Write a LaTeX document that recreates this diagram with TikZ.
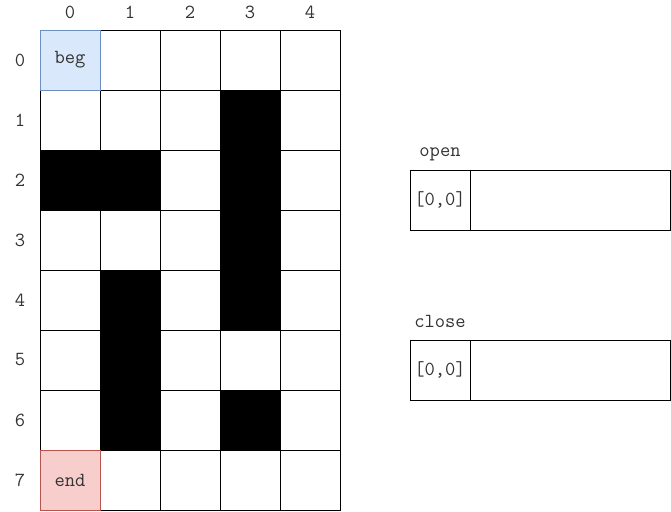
\documentclass[tikz,border=0pt]{standalone}
\usetikzlibrary{positioning}
\definecolor{txt}{HTML}{333333}
\definecolor{begfill}{HTML}{DAE8FC}
\definecolor{begdraw}{HTML}{6C8EBF}
\definecolor{endfill}{HTML}{F8CECC}
\definecolor{enddraw}{HTML}{B85450}
\tikzset{cell/.style={draw,minimum size=60pt,inner sep=0pt,outer sep=0pt}}
\tikzset{wall/.style={cell,fill=black}}
\tikzset{lbl/.style={inner sep=0pt,text=txt,font=\ttfamily\fontsize{20}{22}\selectfont}}

\begin{document}
\begin{tikzpicture}[x=1pt,y=-1pt]
    \useasboundingbox (0,0) rectangle (671,511);
    % grid
    \foreach \r in {0,...,7} {
      \node[lbl] (row\r) at (20,60+60*\r) {\r};
      \foreach \c in {0,...,4}
        \node[cell] (c\r\c) at (70+60*\c,60+60*\r) {};
    }
    \foreach \c in {0,...,4}
      \node[lbl] (col\c) at (70+60*\c,12) {\c};
    % walls
    \foreach \r/\c in {1/3,2/0,2/1,2/3,3/3,4/1,4/3,5/1,6/1,6/3}
      \node[wall] at (c\r\c) {};
    \node[cell,lbl,draw=begdraw,fill=begfill] (beg) at (c00) {beg};
    \node[cell,lbl,draw=enddraw,fill=endfill] (end) at (c70) {end};
    % lists
    \node[cell,lbl,draw=black] (open0) at (440,200) {[0,0]};
    \node[draw,minimum width=200pt,minimum height=60pt,outer sep=0pt,right=0pt of open0] (open1) {};
    \node[lbl] (openlbl) at (440,154) {open};
    \node[cell,lbl,draw=black] (close0) at (440,370) {[0,0]};
    \node[draw,minimum width=200pt,minimum height=60pt,outer sep=0pt,right=0pt of close0] (close1) {};
    \node[lbl] (closelbl) at (440,321) {close};
\end{tikzpicture}
\end{document}
